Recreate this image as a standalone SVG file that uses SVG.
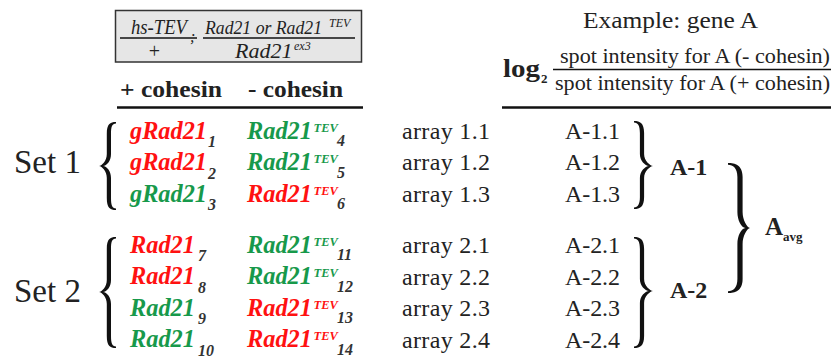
<svg xmlns="http://www.w3.org/2000/svg" width="831" height="362" viewBox="0 0 831 362">
<style>
text{font-family:"Liberation Serif","Times New Roman",serif;fill:#222}
.it{font-style:italic}
.bi{font-style:italic;font-weight:bold}
.b{font-weight:bold}
.r{fill:#ff1111}
.g{fill:#17994b}
.sub{font-style:italic;font-weight:bold;font-size:16px;fill:#333}
.sup{font-style:italic;font-weight:bold;font-size:12.5px}
.gen{font-size:25px}
.arr{font-size:24px}
.rule{stroke:#111;fill:none}
.brace{fill:#111}
</style>
<rect width="831" height="362" fill="#fff"/>

<g id="genotype-box">
<rect x="115.5" y="10.5" width="246" height="51.5" fill="#e6e6e6" stroke="#333" stroke-width="1.5"/>
<text class="it" x="131" y="34" font-size="20" textLength="56" lengthAdjust="spacingAndGlyphs">hs-TEV</text>
<text x="154.5" y="58" font-size="20" text-anchor="middle">+</text>
<text class="it" x="190" y="42" font-size="16">;</text>
<text class="it" x="205" y="34" font-size="19" textLength="117" lengthAdjust="spacingAndGlyphs">Rad21 or Rad21</text>
<text class="it" x="329" y="26.5" font-size="12">TEV</text>
<text class="it" x="235" y="58" font-size="22">Rad21</text>
<text class="it" x="294" y="50" font-size="12">ex3</text>
<line class="rule" x1="120" y1="38" x2="197" y2="38" stroke-width="1.5"/>
<line class="rule" x1="203" y1="38" x2="355" y2="38" stroke-width="1.5"/>
</g>

<g id="column-headers">
<text class="b" x="120" y="97" font-size="24" textLength="102" lengthAdjust="spacingAndGlyphs">+ cohesin</text>
<text class="b" x="248" y="97" font-size="24" textLength="95" lengthAdjust="spacingAndGlyphs">- cohesin</text>
<line class="rule" x1="117" y1="107.5" x2="363" y2="107.5" stroke-width="2.5"/>
</g>

<g id="formula">
<text x="583" y="28" font-size="24" textLength="175" lengthAdjust="spacingAndGlyphs">Example: gene A</text>
<text class="b" x="503" y="77" font-size="26" textLength="37" lengthAdjust="spacingAndGlyphs">log</text>
<text class="b" x="541" y="83" font-size="13">2</text>
<text x="560" y="63" font-size="22" textLength="270" lengthAdjust="spacingAndGlyphs">spot intensity for A (- cohesin)</text>
<line class="rule" x1="553" y1="69.5" x2="831" y2="69.5" stroke-width="1.6"/>
<text x="555" y="90" font-size="22" textLength="275" lengthAdjust="spacingAndGlyphs">spot intensity for A (+ cohesin)</text>
<line class="rule" x1="502" y1="107.5" x2="831" y2="107.5" stroke-width="2.5"/>
</g>

<g id="set1">
<text x="14" y="173" font-size="33">Set 1</text>
<text class="gen bi r" x="130" y="138.5" textLength="77" lengthAdjust="spacingAndGlyphs">gRad21</text><text class="sub" x="208" y="147">1</text>
<text class="gen bi g" x="247" y="138.5" textLength="65" lengthAdjust="spacingAndGlyphs">Rad21</text><text class="sup g" x="313.5" y="131.5">TEV</text><text class="sub" x="337" y="146">4</text>
<text class="gen bi r" x="130" y="170" textLength="77" lengthAdjust="spacingAndGlyphs">gRad21</text><text class="sub" x="208" y="178.5">2</text>
<text class="gen bi g" x="247" y="170" textLength="65" lengthAdjust="spacingAndGlyphs">Rad21</text><text class="sup g" x="313.5" y="163">TEV</text><text class="sub" x="337" y="177.5">5</text>
<text class="gen bi g" x="130" y="201.5" textLength="77" lengthAdjust="spacingAndGlyphs">gRad21</text><text class="sub" x="208" y="210">3</text>
<text class="gen bi r" x="247" y="201.5" textLength="65" lengthAdjust="spacingAndGlyphs">Rad21</text><text class="sup r" x="313.5" y="194.5">TEV</text><text class="sub" x="337" y="209">6</text>
</g>

<g id="set2">
<text x="14" y="302" font-size="33">Set 2</text>
<text class="gen bi r" x="130" y="252.5" textLength="65" lengthAdjust="spacingAndGlyphs">Rad21</text><text class="sub" x="198" y="261">7</text>
<text class="gen bi g" x="247" y="252.5" textLength="65" lengthAdjust="spacingAndGlyphs">Rad21</text><text class="sup g" x="313.5" y="245.5">TEV</text><text class="sub" x="337" y="260">11</text>
<text class="gen bi r" x="130" y="284" textLength="65" lengthAdjust="spacingAndGlyphs">Rad21</text><text class="sub" x="198" y="292.5">8</text>
<text class="gen bi g" x="247" y="284" textLength="65" lengthAdjust="spacingAndGlyphs">Rad21</text><text class="sup g" x="313.5" y="277">TEV</text><text class="sub" x="337" y="291.5">12</text>
<text class="gen bi g" x="130" y="315.5" textLength="65" lengthAdjust="spacingAndGlyphs">Rad21</text><text class="sub" x="198" y="324">9</text>
<text class="gen bi r" x="247" y="315.5" textLength="65" lengthAdjust="spacingAndGlyphs">Rad21</text><text class="sup r" x="313.5" y="308.5">TEV</text><text class="sub" x="337" y="323">13</text>
<text class="gen bi g" x="130" y="347" textLength="65" lengthAdjust="spacingAndGlyphs">Rad21</text><text class="sub" x="198" y="355.5">10</text>
<text class="gen bi r" x="247" y="347" textLength="65" lengthAdjust="spacingAndGlyphs">Rad21</text><text class="sup r" x="313.5" y="340">TEV</text><text class="sub" x="337" y="354.5">14</text>
</g>

<g id="arrays">
<text class="arr" x="402" y="138.5" textLength="88">array 1.1</text>
<text class="arr" x="402" y="170" textLength="88">array 1.2</text>
<text class="arr" x="402" y="201.5" textLength="88">array 1.3</text>
<text class="arr" x="402" y="253" textLength="88">array 2.1</text>
<text class="arr" x="402" y="284.5" textLength="88">array 2.2</text>
<text class="arr" x="402" y="316" textLength="88">array 2.3</text>
<text class="arr" x="402" y="347.5" textLength="88">array 2.4</text>
</g>

<g id="values">
<text class="arr" x="565" y="138.5" textLength="55">A-1.1</text>
<text class="arr" x="565" y="170" textLength="55">A-1.2</text>
<text class="arr" x="565" y="201.5" textLength="55">A-1.3</text>
<text class="arr" x="565" y="253" textLength="55">A-2.1</text>
<text class="arr" x="565" y="284.5" textLength="55">A-2.2</text>
<text class="arr" x="565" y="316" textLength="55">A-2.3</text>
<text class="arr" x="565" y="347.5" textLength="55">A-2.4</text>
</g>

<g id="averages">
<text class="b" x="670" y="175" font-size="24">A-1</text>
<text class="b" x="670" y="298" font-size="24">A-2</text>
<text class="b" x="765" y="235" font-size="25">A</text>
<text class="b" x="783" y="241" font-size="13">avg</text>
</g>

<g id="connectors">
<path class="brace" d="M116,122 C110,122 106.8,124 106.8,134 L106.8,154 C106.8,161 102,165.5 99,166 C102,166.5 106.8,171 106.8,178 L106.8,198 C106.8,208 110,210 116,210 L116,208.4 C112,208.4 111,205 111,198 L111,178 C111,171 107,166.5 103,166 C107,165.5 111,161 111,154 L111,134 C111,127 112,123.6 116,123.6 Z"/>
<path class="brace" d="M116,237 C110,237 106.8,239 106.8,249 L106.8,280 C106.8,287 102,291.5 99,292 C102,292.5 106.8,297 106.8,304 L106.8,336 C106.8,346 110,348 116,348 L116,346.4 C112,346.4 111,343 111,336 L111,304 C111,297 107,292.5 103,292 C107,291.5 111,287 111,280 L111,249 C111,242 112,238.6 116,238.6 Z"/>
<path class="brace" d="M634,121 C640,121 644.1,123 644.1,133 L644.1,154 C644.1,161 650,165.5 653,166 C650,166.5 644.1,171 644.1,178 L644.1,197 C644.1,207 640,209 634,209 L634,207.4 C638,207.4 639.9,204 639.9,197 L639.9,178 C639.9,171 645,166.5 649,166 C645,165.5 639.9,161 639.9,154 L639.9,133 C639.9,126 638,122.6 634,122.6 Z"/>
<path class="brace" d="M634,237 C640,237 644.1,239 644.1,249 L644.1,279 C644.1,286 650,290.5 653,291 C650,291.5 644.1,296 644.1,303 L644.1,336 C644.1,346 640,348 634,348 L634,346.4 C638,346.4 639.9,343 639.9,336 L639.9,303 C639.9,296 645,291.5 649,291 C645,290.5 639.9,286 639.9,279 L639.9,249 C639.9,242 638,238.6 634,238.6 Z"/>
<path class="brace" d="M728,163 C735,163 742.6,165 742.6,177 L742.6,212 C742.6,220 747,227.5 750,228 C747,228.5 742.6,236 742.6,244 L742.6,279 C742.6,291 735,293 728,293 L728,291.2 C733,291.2 737.4,288 737.4,279 L737.4,244 C737.4,236 741,228.5 745.5,228 C741,227.5 737.4,220 737.4,212 L737.4,177 C737.4,168 733,164.8 728,164.8 Z"/>
</g>
</svg>
